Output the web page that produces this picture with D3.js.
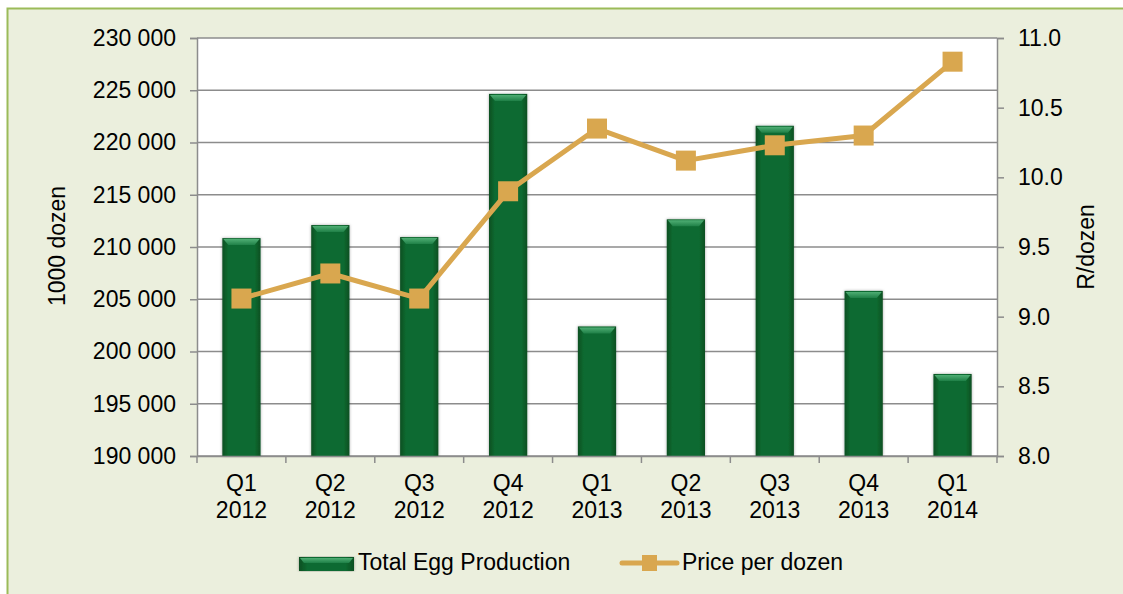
<!DOCTYPE html>
<html><head><meta charset="utf-8">
<script src="https://cdn.jsdelivr.net/npm/d3@7"></script>
<style>body{margin:0;background:#fff;}svg{display:block;font-family:"Liberation Sans",Arial,sans-serif;}</style>
</head><body>
<svg id="c" width="1123" height="594"></svg>
<script>
const categories = ["Q1|2012","Q2|2012","Q3|2012","Q4|2012","Q1|2013","Q2|2013","Q3|2013","Q4|2013","Q1|2014"];
const production = [210850, 212100, 210950, 224650, 202400, 212650, 221600, 205800, 197850];
const price = [9.13, 9.31, 9.13, 9.90, 10.35, 10.12, 10.23, 10.30, 10.83];
const leftTicks = [190000,195000,200000,205000,210000,215000,220000,225000,230000];
const rightTicks = [8.0,8.5,9.0,9.5,10.0,10.5,11.0];

const FS = 23;
const svg = d3.select("#c");
const M = {l:197, r:997, t:38, b:456};
svg.append("rect").attr("x",7.5).attr("y",8.5).attr("width",1125).attr("height",600)
  .attr("fill","#ebefdd").attr("stroke","#9bbb59").attr("stroke-width",2);
svg.append("rect").attr("x",M.l).attr("y",M.t).attr("width",M.r-M.l).attr("height",M.b-M.t).attr("fill","#fff");

const defs = svg.append("defs");
const g1 = defs.append("linearGradient").attr("id","barg").attr("x1","0").attr("x2","1");
[[0,"#0b4f22"],[0.15,"#0e6a30"],[0.5,"#0c6b30"],[0.85,"#0e6a30"],[1,"#0b4f22"]].forEach(s=>g1.append("stop").attr("offset",s[0]).attr("stop-color",s[1]));
const g2 = defs.append("linearGradient").attr("id","topg").attr("x1","0").attr("x2","0").attr("y1","0").attr("y2","1");
[[0,"#4fae74"],[1,"#1f8047"]].forEach(s=>g2.append("stop").attr("offset",s[0]).attr("stop-color",s[1]));
const f = defs.append("filter").attr("id","sh").attr("x","-20%").attr("y","-5%").attr("width","140%").attr("height","110%");
f.append("feDropShadow").attr("dx",0).attr("dy",0).attr("stdDeviation",1.5).attr("flood-color","#000").attr("flood-opacity",0.35);

const x = d3.scaleBand().domain(categories).range([M.l,M.r]).paddingInner(0.57).paddingOuter(0.285);
const xb = d3.scaleBand().domain(categories).range([M.l,M.r]);
const yL = d3.scaleLinear().domain([190000,230000]).range([M.b,M.t]);
const yR = d3.scaleLinear().domain([8,11]).range([M.b,M.t]);

// gridlines
svg.append("g").selectAll("line").data(leftTicks).join("line")
  .attr("x1",M.l).attr("x2",M.r).attr("y1",d=>yL(d)).attr("y2",d=>yL(d))
  .attr("stroke","#8c8c8c").attr("stroke-width",1.5);

// bars
const bars = svg.append("g").selectAll("g").data(categories).join("g");
bars.append("rect").attr("x",d=>x(d)).attr("width",x.bandwidth())
  .attr("y",(d,i)=>yL(production[i])).attr("height",(d,i)=>M.b-yL(production[i]))
  .attr("fill","url(#barg)").attr("filter","url(#sh)");
bars.append("path").attr("d",(d,i)=>{const x0=x(d),w=x.bandwidth(),y0=yL(production[i]);
  return `M${x0+1},${y0+1}L${x0+w-1},${y0+1}L${x0+w-6},${y0+7}L${x0+6},${y0+7}Z`;})
  .attr("fill","url(#topg)");

// axes
const fmt = d => d3.format(",")(d).replace(/,/g," ");
const axL = svg.append("g").attr("transform",`translate(${M.l},0)`)
  .call(d3.axisLeft(yL).tickValues(leftTicks).tickFormat(fmt).tickSize(7).tickPadding(14));
const axR = svg.append("g").attr("transform",`translate(${M.r},0)`)
  .call(d3.axisRight(yR).tickValues(rightTicks).tickFormat(d3.format(".1f")).tickSize(7).tickPadding(14));
const axB = svg.append("g").attr("transform",`translate(0,${M.b})`)
  .call(d3.axisBottom(xb).tickSize(0).tickFormat(""));
svg.append("g").selectAll("line").data(d3.range(categories.length+1)).join("line")
  .attr("x1",i=>M.l+i*xb.step()).attr("x2",i=>M.l+i*xb.step()).attr("y1",M.b).attr("y2",M.b+7)
  .attr("stroke","#8c8c8c").attr("stroke-width",1.5);
[axL,axR,axB].forEach(a=>{a.selectAll("path").attr("stroke","#8c8c8c").attr("stroke-width",1.5);
  a.selectAll("line").attr("stroke","#8c8c8c").attr("stroke-width",1.5);
  a.selectAll("text").attr("font-size",FS).attr("fill","#000").attr("font-family","Liberation Sans, Arial, sans-serif");});

// category labels
const cl = svg.append("g").selectAll("text").data(categories).join("text")
  .attr("x",d=>xb(d)+xb.bandwidth()/2).attr("y",491).attr("text-anchor","middle")
  .attr("font-size",FS).attr("fill","#000");
cl.append("tspan").attr("x",d=>xb(d)+xb.bandwidth()/2).attr("dy",0).text(d=>d.split("|")[0]);
cl.append("tspan").attr("x",d=>xb(d)+xb.bandwidth()/2).attr("dy",27).text(d=>d.split("|")[1]);

// line
const cx = d => xb(d)+xb.bandwidth()/2;
svg.append("path").datum(categories).attr("fill","none").attr("stroke","#d9a74f").attr("stroke-width",5)
  .attr("stroke-linejoin","round")
  .attr("d",d3.line().x(d=>cx(d)).y((d,i)=>yR(price[i])));
svg.append("g").selectAll("rect").data(categories).join("rect")
  .attr("x",d=>cx(d)-10).attr("y",(d,i)=>yR(price[i])-10).attr("width",20).attr("height",20)
  .attr("fill","#d9a74f");

// axis titles
svg.append("text").attr("transform","translate(65,246) rotate(-90)").attr("text-anchor","middle")
  .attr("font-size",FS).text("1000 dozen");
svg.append("text").attr("transform","translate(1094,247) rotate(-90)").attr("text-anchor","middle")
  .attr("font-size",FS).text("R/dozen");

// legend
const lg = svg.append("g");
lg.append("rect").attr("x",299).attr("y",557).attr("width",55).attr("height",14).attr("fill","url(#barg)").attr("filter","url(#sh)");
lg.append("path").attr("d","M300,558L353,558L349,563L304,563Z").attr("fill","url(#topg)");
lg.append("text").attr("x",358).attr("y",570).attr("font-size",FS).text("Total Egg Production");
lg.append("line").attr("x1",622).attr("x2",677).attr("y1",563).attr("y2",563).attr("stroke","#d9a74f").attr("stroke-width",5).attr("stroke-linecap","round");
lg.append("rect").attr("x",642).attr("y",555).attr("width",15).attr("height",16).attr("fill","#d9a74f");
lg.append("text").attr("x",682).attr("y",570).attr("font-size",FS).text("Price per dozen");
</script>
</body></html>
